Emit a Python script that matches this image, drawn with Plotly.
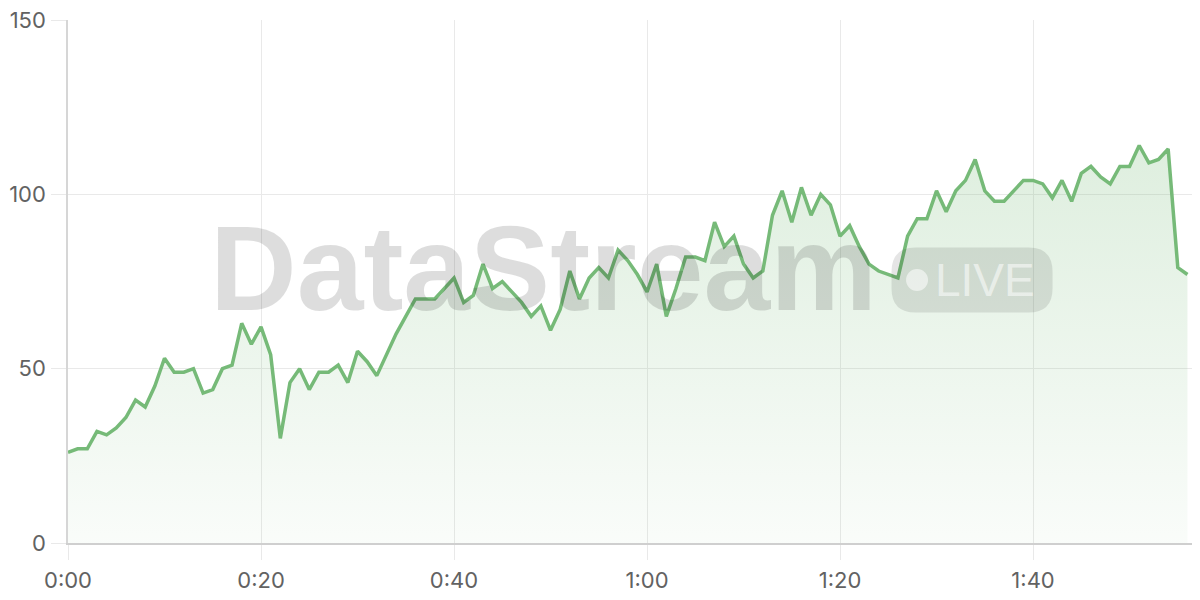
import plotly.graph_objects as go

seconds = list(range(0, 117))
values = [
    26, 27, 27, 32, 31, 33, 36, 41, 39, 45,
    53, 49, 49, 50, 43, 44, 50, 51, 63, 57,
    62, 54, 30, 46, 50, 44, 49, 49, 51, 46,
    55, 52, 48, 54, 60, 65, 70, 70, 70, 73,
    76, 69, 71, 80, 73, 75, 72, 69, 65, 68,
    61, 67, 78, 70, 76, 79, 76, 84, 81, 77,
    72, 80, 65, 73, 82, 82, 81, 92, 85, 88,
    80, 76, 78, 94, 101, 92, 102, 94, 100, 97,
    88, 91, 85, 80, 78, 77, 76, 88, 93, 93,
    101, 95, 101, 104, 110, 101, 98, 98, 101, 104,
    104, 103, 99, 104, 98, 106, 108, 105, 103, 108,
    108, 114, 109, 110, 113, 79, 77,
]
tick_vals = [0, 20, 40, 60, 80, 100]
tick_text = ["0:00", "0:20", "0:40", "1:00", "1:20", "1:40"]
y_ticks = [0, 50, 100, 150]

GREEN = "rgb(118,186,120)"

fig = go.Figure()
fig.add_trace(go.Scatter(
    x=seconds, y=values, mode="lines",
    line=dict(color=GREEN, width=3.5, shape="linear"),
    fill="tozeroy",
    fillgradient=dict(
        type="vertical",
        colorscale=[[0, "rgba(118,186,120,0.04)"], [1, "rgba(118,186,120,0.24)"]],
    ),
    hoverinfo="skip",
))

# watermark
fig.add_annotation(
    x=(543 - 68) / 9.65, y=79, xref="x", yref="y", text="<b>DataStream</b>", showarrow=False,
    font=dict(family="Liberation Sans, Arial", size=120, color="rgba(0,0,0,0.135)"),
    xanchor="center", yanchor="middle",
)
# LIVE pill (pixel-sized path anchored at its center)
w, h, r = 161, 65, 24
hw, hh = w / 2, h / 2
path = (
    f"M {-hw + r},{-hh} L {hw - r},{-hh} Q {hw},{-hh} {hw},{-hh + r} "
    f"L {hw},{hh - r} Q {hw},{hh} {hw - r},{hh} L {-hw + r},{hh} "
    f"Q {-hw},{hh} {-hw},{hh - r} L {-hw},{-hh + r} Q {-hw},{-hh} {-hw + r},{-hh} Z"
)
cx = (972 - 68) / 9.65
cy = (543 - 280) / 3.487
fig.add_shape(
    type="path", path=path, xsizemode="pixel", ysizemode="pixel",
    xanchor=cx, yanchor=cy, xref="x", yref="y",
    fillcolor="rgba(0,0,0,0.10)", line=dict(width=0), layer="above",
)
dcx = (917 - 68) / 9.65
fig.add_shape(
    type="circle", xsizemode="pixel", ysizemode="pixel",
    xanchor=dcx, yanchor=cy, xref="x", yref="y",
    x0=-11, x1=11, y0=-11, y1=11,
    fillcolor="rgba(255,255,255,0.55)", line=dict(width=0), layer="above",
)
fig.add_annotation(
    x=(985 - 68) / 9.65, y=cy, xref="x", yref="y", text="LIVE", showarrow=False,
    font=dict(family="Liberation Sans, Arial", size=46, color="rgba(255,255,255,0.55)"),
    xanchor="center", yanchor="middle",
)

# page body has an 8px margin, so the figure is sized/offset to compensate
fig.update_layout(
    width=1192, height=592,
    margin=dict(l=60, r=0, t=12, b=57, autoexpand=False),
    paper_bgcolor="white", plot_bgcolor="white",
    showlegend=False,
    font=dict(family="Inter, Roboto, sans-serif", size=22, color="#626262"),
)
fig.update_xaxes(
    range=[0, 117.3], tickvals=tick_vals, ticktext=tick_text,
    showgrid=True, gridcolor="#e9e9e9", gridwidth=1.2,
    ticks="outside", ticklen=15, tickcolor="#e9e9e9", tickwidth=1.2,
    showline=True, linecolor="#cfcfcf", linewidth=1.5,
    zeroline=False, ticklabelstandoff=2, automargin=False,
    ticklabeloverflow="allow",
)
fig.update_yaxes(
    range=[0, 150], tickvals=y_ticks,
    showgrid=True, gridcolor="#e9e9e9", gridwidth=1.2,
    ticks="outside", ticklen=15, tickcolor="#e9e9e9", tickwidth=1.2,
    showline=True, linecolor="#d6d6d6", linewidth=1.5,
    zeroline=False, ticklabelstandoff=1, automargin=False,
    ticklabeloverflow="allow",
)

fig.write_html("out.html")
